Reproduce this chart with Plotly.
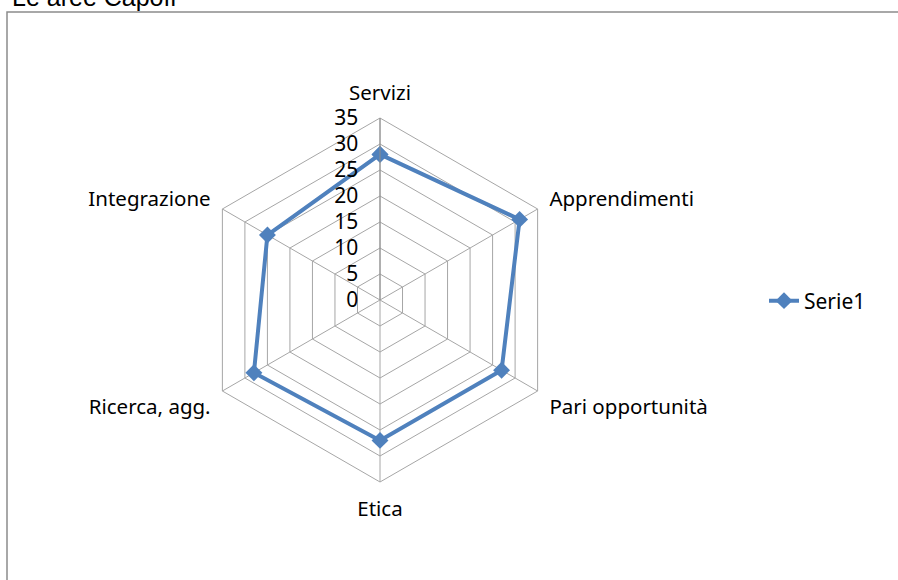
import plotly.graph_objects as go

categories = ["Servizi", "Apprendimenti", "Pari opportunità", "Etica", "Ricerca, agg.", "Integrazione"]
values = [28, 31, 27, 27, 28, 25]
series_name = "Serie1"
title_text = "Le aree Capofi"
tick_vals = [0, 5, 10, 15, 20, 25, 30, 35]

W, H = 898, 580
cx, cy, R = 380, 300, 182

theta = categories + [categories[0]]
r = values + [values[0]]

FONT = "Noto Sans, Lato, sans-serif"

fig = go.Figure()
fig.add_trace(go.Scatterpolar(
    r=r, theta=theta, mode="lines+markers", name=series_name,
    line=dict(color="#4F81BD", width=4),
    marker=dict(symbol="diamond", size=13, color="#4F81BD"),
))

fig.update_layout(
    width=W, height=H,
    margin=dict(l=0, r=0, t=0, b=0),
    paper_bgcolor="white",
    font=dict(family=FONT, size=18, color="black"),
    polar=dict(
        domain=dict(x=[(cx - R) / W, (cx + R) / W], y=[1 - (cy + R) / H, 1 - (cy - R) / H]),
        gridshape="linear",
        bgcolor="white",
        radialaxis=dict(
            range=[0, 35], tickvals=tick_vals, angle=90, tickangle=90,
            side="counterclockwise",
            showline=True, linecolor="#8C8C8C", linewidth=1,
            gridcolor="#A6A6A6", gridwidth=1,
            ticks="outside", ticklen=14, tickcolor="rgba(0,0,0,0)",
            tickfont=dict(size=21, family=FONT),
        ),
        angularaxis=dict(
            rotation=90, direction="clockwise",
            linecolor="#A6A6A6", linewidth=1, showline=True,
            gridcolor="#A6A6A6", gridwidth=1,
            ticks="outside", ticklen=9, tickcolor="rgba(0,0,0,0)",
            tickfont=dict(size=20.5, family=FONT),
        ),
    ),
    showlegend=True,
    legend=dict(x=764 / W, y=1 - 301 / H, xanchor="left", yanchor="middle",
                font=dict(size=21, family=FONT), bgcolor="rgba(0,0,0,0)"),
    shapes=[dict(type="rect", xref="paper", yref="paper",
                 x0=7 / W, x1=1.01, y0=-0.01, y1=1 - 12 / H,
                 line=dict(color="#8C8C8C", width=1.5))],
    annotations=[dict(text=title_text, xref="paper", yref="paper", x=10 / W, y=1,
                      xanchor="left", yanchor="middle", yshift=3, showarrow=False,
                      font=dict(family="Liberation Sans, Arial", size=25, color="black"))],
)

fig.write_html("out.html", config={"displayModeBar": False},
               post_script="document.body.style.margin='0';document.body.style.overflow='hidden';")
